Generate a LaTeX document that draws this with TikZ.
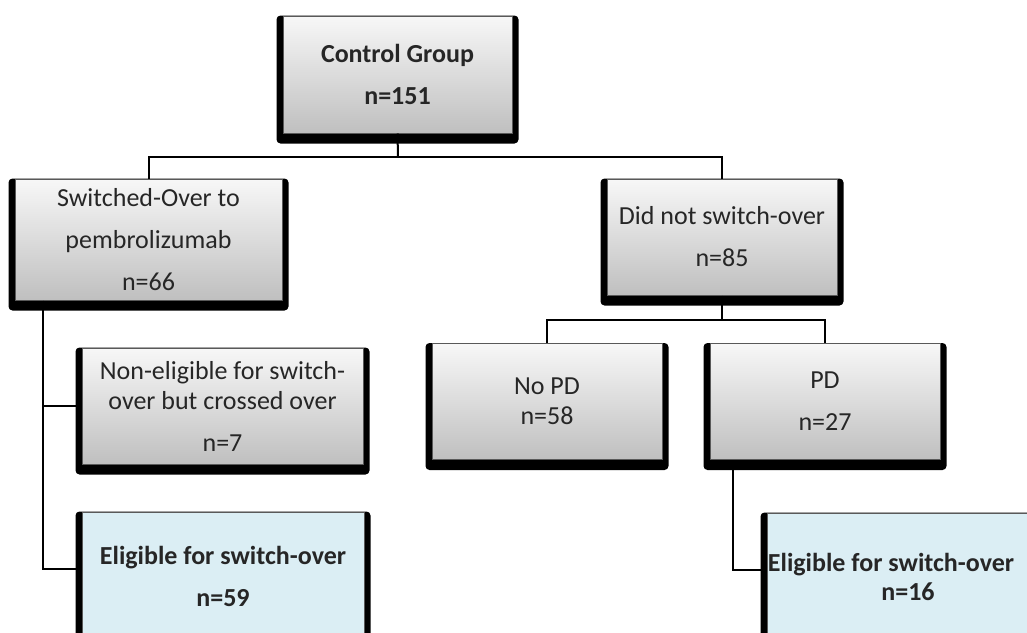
\documentclass[tikz,border=0pt]{standalone}
\usepackage{fontspec}
\setmainfont{Carlito}
\usetikzlibrary{backgrounds}

\definecolor{eligblue}{RGB}{219,238,244}

\tikzset{
	box/.style={shape=rectangle,draw=black!65,line width=1pt,align=center,inner sep=0pt,
		font=\fontsize{26}{42}\selectfont,text=black!85},
	greybox/.style={box,top color=gray!6,bottom color=gray!50},
	bluebox/.style={box,fill=eligblue},
	link/.style={draw=black,line width=2pt}
}

\begin{document}
\begin{tikzpicture}[x=1pt,y=-1pt]
	
	\useasboundingbox (0,0) rectangle (1027,632);
	\clip (0,0) rectangle (1027,632);
	
	\node[greybox,minimum width=229pt,minimum height=117pt] (ctrl)  at (397.5,74.5) {\textbf{Control Group}\\\textbf{n=151}};
	\node[greybox,minimum width=267pt,minimum height=121pt] (swo)   at (148.5,239.5) {Switched-Over to\\pembrolizumab\\n=66};
	\node[greybox,minimum width=230pt,minimum height=116pt] (nsw)   at (722,237)     {Did not switch-over\\n=85};
	\node[greybox,minimum width=281pt,minimum height=116pt] (nelig) at (222.5,406)   {Non-eligible for switch-\\[-12pt]over but crossed over\\n=7};
	\node[bluebox,minimum width=282pt,minimum height=128pt] (eligA) at (223,576)     {\textbf{Eligible for switch-over}\\\textbf{n=59}};
	\node[greybox,minimum width=230pt,minimum height=116pt] (nopd)  at (547,401.5)   {No PD\\[-12pt]n=58};
	\node[greybox,minimum width=230pt,minimum height=116pt] (pd)    at (825,401.5)   {PD\\n=27};
	\node[bluebox,minimum width=282pt,minimum height=128pt] (eligB) at (908,577)     {\hspace*{-34pt}\textbf{Eligible for switch-over}\\[-13pt]\textbf{n=16}};
	
	% shadows behind the boxes
	\begin{pgfonlayer}{background}
		\foreach \b in {ctrl,swo,nsw,nelig,eligA,nopd,pd,eligB}
			\fill[black,rounded corners=4pt] ([xshift=-6pt]\b.north west) rectangle ([xshift=6pt,yshift=-10pt]\b.south east);
	\end{pgfonlayer}
	
	\coordinate (top) at (398,157);
	\coordinate (mid) at (722,320);
	
	\draw[link] (ctrl.south) -- (top);
	\draw[link] (swo.north) |- (top) -| (nsw.north);
	\draw[link] (nsw.south) -- (mid);
	\draw[link] (nopd.north) |- (mid) -| (pd.north);
	\draw[link] ([xshift=28pt]swo.south west) |- (nelig.west);
	\draw[link] ([xshift=28pt]swo.south west) |- ([yshift=7pt]eligA.west);
	\draw[link] ([xshift=23pt]pd.south west) |- ([yshift=7pt]eligB.west);
	
\end{tikzpicture}
\end{document}
